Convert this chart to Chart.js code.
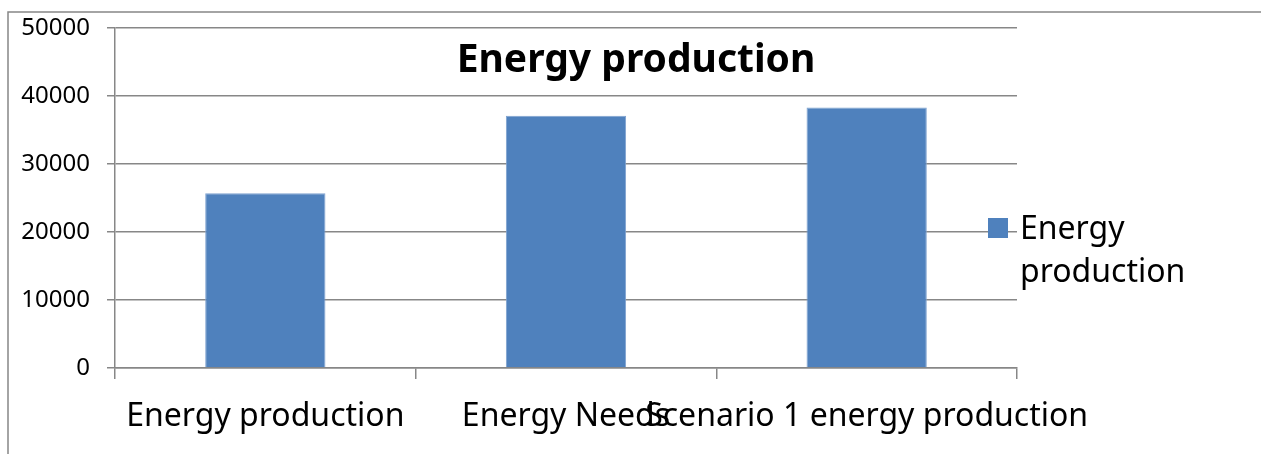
<!DOCTYPE html>
<html>
<head>
<meta charset="utf-8">
<script src="https://cdn.jsdelivr.net/npm/chart.js@4/dist/chart.umd.min.js"></script>
<style>
  html, body { margin: 0; padding: 0; background: #ffffff; }
  #wrap { width: 1261px; height: 454px; position: relative; }
</style>
</head>
<body>
<div id="wrap"><canvas id="chart" width="1261" height="454"></canvas></div>
<script>
// Chart content
const chartTitle = 'Energy production';
const seriesName = 'Energy production';
const categories = ['Energy production', 'Energy Needs', 'Scenario 1 energy production'];
const seriesValues = [25700, 37100, 38300];
const yTickValues = [0, 10000, 20000, 30000, 40000, 50000];

const FONT = "'Noto Sans', 'Open Sans', sans-serif";
const GRID = '#878787';
const BAR = '#4F81BD';

// Frame around the chart, open to the right and bottom
const framePlugin = {
  id: 'frame',
  beforeDraw(chart) {
    const ctx = chart.ctx;
    ctx.save();
    ctx.fillStyle = '#ffffff';
    ctx.fillRect(0, 0, chart.width, chart.height);
    ctx.strokeStyle = GRID;
    ctx.lineWidth = 1.5;
    ctx.strokeRect(8, 12, chart.width + 50, chart.height + 50);
    ctx.restore();
  }
};

// Title drawn over the plot
const titlePlugin = {
  id: 'overTitle',
  afterDraw(chart) {
    const ctx = chart.ctx;
    ctx.save();
    ctx.font = 'bold 39px ' + FONT;
    ctx.fillStyle = '#000';
    ctx.textAlign = 'center';
    ctx.textBaseline = 'alphabetic';
    ctx.fillText(chartTitle, 636, 72);
    ctx.restore();
  }
};

// Legend with a wrapped label, sitting at the right edge of the plot
const legendPlugin = {
  id: 'sideLegend',
  afterDraw(chart) {
    const ctx = chart.ctx;
    const ds = chart.data.datasets[0];
    ctx.save();
    ctx.fillStyle = ds.backgroundColor;
    ctx.fillRect(988, 218, 20, 20);
    ctx.font = '32px ' + FONT;
    ctx.fillStyle = '#000';
    ctx.textAlign = 'left';
    ctx.textBaseline = 'alphabetic';
    const words = ds.label.split(' ');
    const lines = [];
    let cur = '';
    for (const w of words) {
      const t = cur ? cur + ' ' + w : w;
      if (cur && ctx.measureText(t).width > 225) { lines.push(cur); cur = w; }
      else cur = t;
    }
    if (cur) lines.push(cur);
    lines.forEach((ln, i) => ctx.fillText(ln, 1020, 239 + i * 43));
    ctx.restore();
  }
};

new Chart(document.getElementById('chart'), {
  type: 'bar',
  data: {
    labels: categories,
    datasets: [{
      label: seriesName,
      data: seriesValues,
      backgroundColor: BAR,
      borderColor: '#7ea2d0',
      borderWidth: 1,
      borderSkipped: 'bottom',
      categoryPercentage: 1.0,
      barPercentage: 0.4
    }]
  },
  options: {
    responsive: false,
    animation: false,
    devicePixelRatio: 1,
    layout: { padding: { left: 0, top: 28, right: 244, bottom: 0 } },
    plugins: {
      legend: { display: false },
      title: { display: false },
      tooltip: { enabled: false }
    },
    scales: {
      x: {
        offset: true,
        grid: {
          offset: true,
          drawOnChartArea: false,
          drawTicks: true,
          tickLength: 11,
          color: GRID,
          lineWidth: 1.5
        },
        border: { color: GRID, width: 1.5 },
        ticks: {
          autoSkip: false,
          maxRotation: 0,
          minRotation: 0,
          padding: 19,
          color: '#000',
          font: { family: FONT, size: 32 }
        },
        afterFit(scale) { scale.height = 86; }
      },
      y: {
        min: 0,
        max: 50000,
        afterBuildTicks(scale) { scale.ticks = yTickValues.map(v => ({ value: v })); },
        grid: {
          color: GRID,
          lineWidth: 1.5,
          tickLength: 8
        },
        border: { color: GRID, width: 1.5 },
        ticks: {
          padding: 17,
          color: '#000',
          font: { family: FONT, size: 24 },
          callback: v => String(v)
        },
        afterFit(scale) {
          scale.width = 115;
          scale.paddingTop = 0;
          scale.paddingBottom = 0;
        }
      }
    }
  },
  plugins: [framePlugin, titlePlugin, legendPlugin]
});
</script>
</body>
</html>
